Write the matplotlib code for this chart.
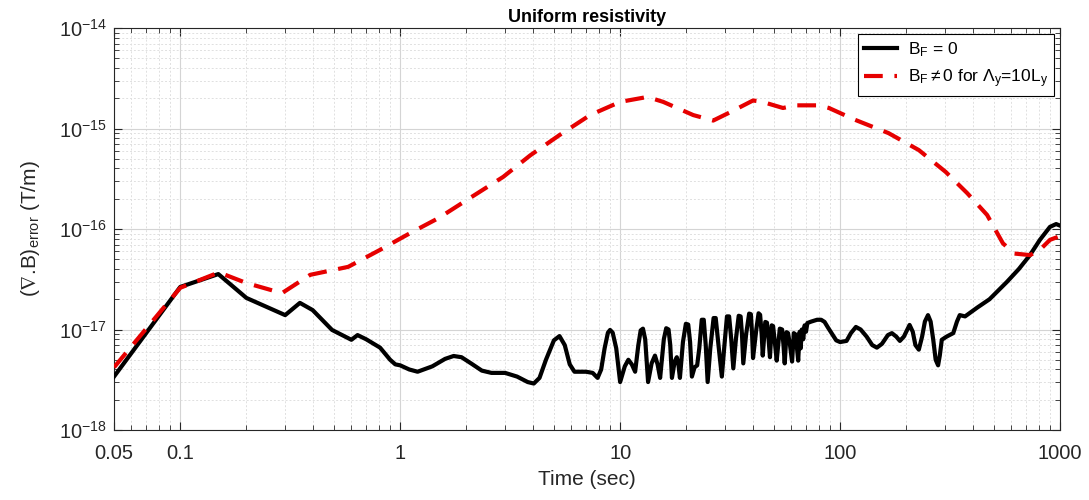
import numpy as np
import matplotlib.pyplot as plt
from matplotlib.ticker import FixedLocator, LogLocator, NullFormatter

plt.rcParams['font.family'] = ['Liberation Sans', 'DejaVu Sans']
plt.rcParams['mathtext.fontset'] = 'custom'
plt.rcParams['mathtext.rm'] = 'Liberation Sans'
plt.rcParams['mathtext.it'] = 'Liberation Sans'
plt.rcParams['mathtext.fallback'] = 'stixsans'

# B_F = 0 (black solid)
t_black = [0.05, 0.1, 0.149, 0.2, 0.3, 0.35, 0.4, 0.49, 0.6, 0.64, 0.7, 0.81, 0.9, 0.95,
           1.0, 1.1, 1.2, 1.4, 1.6, 1.75, 1.9, 2.1, 2.35, 2.6, 3.0, 3.4, 3.8, 4.05, 4.3,
           4.6, 5.0, 5.3, 5.6, 5.9, 6.2, 7.0, 7.5, 7.9,
           8.2, 8.5, 8.8, 9.0, 9.25, 9.6, 10.0, 10.5, 10.9, 11.3, 11.7,
           12.1, 12.4, 12.7, 13.0, 13.4, 13.9, 14.4, 14.8, 15.2,
           15.8, 16.2, 16.6, 16.9, 17.2, 17.7, 18.1, 18.4, 18.7,
           19.3, 19.9, 20.4, 20.8, 21.2, 21.8, 22.4, 22.9, 23.5, 24.0, 24.5, 25.0,
           25.7, 26.6, 27.2, 28.0, 29.0, 29.8, 30.6, 31.3, 32.0, 32.7,
           33.6, 34.6, 35.3, 35.8, 36.3, 37.4, 38.6, 39.3, 39.8, 40.2,
           41.6, 42.6, 43.3, 44.0, 44.5, 45.7, 46.5, 47.3, 48.0, 48.9, 49.6, 50.5, 51.5,
           53.2, 54.5, 55.3, 56.0, 57.1, 58.0, 59.2, 60.5, 61.6, 62.5, 63.5, 64.5,
           65.5, 66.2, 67.0, 68.0, 69.0, 70.0, 71.0, 74.0, 78.6, 82.0, 85.0, 88.0,
           92, 96, 100, 107, 112, 118, 124, 132, 140, 147, 155, 165, 172, 180, 187, 195,
           207, 214, 220, 228, 236, 243, 251, 258, 265, 272, 279, 284, 290, 305, 327,
           340, 350, 370, 420, 478, 573, 650, 730, 810, 900, 960, 1000]
err_black = [3.4e-18, 2.65e-17, 3.56e-17, 2.06e-17, 1.39e-17, 1.84e-17, 1.56e-17, 9.9e-18,
             7.9e-18, 8.8e-18, 8.0e-18, 6.6e-18, 5.0e-18, 4.5e-18,
             4.4e-18, 4.0e-18, 3.8e-18, 4.3e-18, 5.1e-18, 5.45e-18, 5.3e-18, 4.6e-18, 3.9e-18,
             3.7e-18, 3.7e-18, 3.4e-18, 3.0e-18, 2.9e-18, 3.3e-18,
             5.0e-18, 7.8e-18, 8.6e-18, 7.0e-18, 4.5e-18, 3.8e-18, 3.8e-18, 3.7e-18, 3.3e-18,
             4.0e-18, 6.5e-18, 9.3e-18, 9.9e-18, 9.3e-18, 6.5e-18, 3.0e-18, 4.3e-18, 5.0e-18,
             4.5e-18, 3.8e-18,
             7.0e-18, 9.8e-18, 1.02e-17, 8.0e-18, 3.0e-18, 4.6e-18, 5.5e-18, 4.5e-18, 3.3e-18,
             8.0e-18, 1.03e-17, 1.0e-17, 7.0e-18, 3.3e-18, 4.8e-18, 5.3e-18, 4.5e-18, 3.3e-18,
             7.5e-18, 1.14e-17, 1.12e-17, 7.5e-18, 3.4e-18, 4.2e-18, 4.4e-18, 6.5e-18,
             1.25e-17, 1.25e-17, 7.0e-18, 3.0e-18,
             6.5e-18, 1.3e-17, 1.3e-17, 7.0e-18, 3.4e-18, 7.0e-18, 1.35e-17, 1.35e-17,
             8.0e-18, 4.1e-18,
             8.0e-18, 1.37e-17, 1.35e-17, 9.0e-18, 4.6e-18, 9.0e-18, 1.44e-17, 1.42e-17,
             9.0e-18, 5.2e-18,
             1.0e-17, 1.45e-17, 1.4e-17, 9.0e-18, 5.5e-18, 1.19e-17, 1.17e-17, 8.0e-18,
             5.3e-18, 1.1e-17, 1.08e-17, 7.5e-18, 4.9e-18,
             1.02e-17, 1.0e-17, 7.0e-18, 4.6e-18, 9.4e-18, 9.2e-18, 7.0e-18, 4.8e-18,
             9.2e-18, 9.0e-18, 7.0e-18, 4.9e-18,
             9.5e-18, 6.5e-18, 1.0e-17, 8.0e-18, 1.1e-17, 9.5e-18, 1.16e-17, 1.2e-17,
             1.25e-17, 1.25e-17, 1.19e-17, 1.05e-17,
             9.0e-18, 7.8e-18, 7.5e-18, 7.7e-18, 9.2e-18, 1.06e-17, 1.0e-17, 8.5e-18,
             7.0e-18, 6.6e-18, 7.2e-18, 8.8e-18, 9.2e-18, 8.5e-18, 7.7e-18, 8.5e-18,
             1.11e-17, 9.5e-18, 7.0e-18, 6.3e-18, 8.5e-18, 1.2e-17, 1.39e-17, 1.2e-17,
             8.0e-18, 5.0e-18, 4.4e-18, 5.5e-18, 7.9e-18, 8.5e-18, 9.2e-18,
             1.2e-17, 1.39e-17, 1.35e-17, 1.65e-17, 2.0e-17, 2.97e-17, 4.0e-17, 5.5e-17,
             7.8e-17, 1.05e-16, 1.12e-16, 1.08e-16]

# B_F != 0 (red dashed)
t_red = [0.05, 0.1, 0.15, 0.2, 0.29, 0.39, 0.58, 0.81, 1.11, 1.5, 2.08, 2.94, 3.9, 5.3,
         7.3, 10, 13.3, 15.7, 21.5, 26.5, 31.6, 40.2, 44, 55, 63, 80, 89, 117, 166, 228,
         302, 378, 466, 550, 620, 730, 810, 900, 1000]
err_red = [4.2e-18, 2.6e-17, 3.7e-17, 2.9e-17, 2.3e-17, 3.5e-17, 4.2e-17, 6.2e-17, 9.1e-17,
           1.29e-16, 2.04e-16, 3.3e-16, 5.4e-16, 8.6e-16,
           1.36e-15, 1.84e-15, 2.06e-15, 1.84e-15, 1.36e-15, 1.2e-15, 1.45e-15, 1.9e-15,
           1.85e-15, 1.6e-15, 1.7e-15, 1.7e-15, 1.6e-15, 1.22e-15, 9e-16, 6.1e-16,
           3.7e-16, 2.28e-16, 1.38e-16, 7.2e-17, 5.7e-17, 5.5e-17, 6.2e-17, 7.8e-17, 8.5e-17]

xticks = [0.05, 0.1, 1, 10, 100, 1000]
xticklabels = ['0.05', '0.1', '1', '10', '100', '1000']
yticks = [1e-18, 1e-17, 1e-16, 1e-15, 1e-14]

fig = plt.figure(figsize=(10.89, 5.0), dpi=100)
ax = fig.add_axes([0.1047, 0.14, 0.8687, 0.804])

ax.plot(t_black, err_black, color='black', lw=3.0, solid_joinstyle='round',
        label=r'B$_\mathregular{F}$ = 0', zorder=3)
ax.plot(t_red, err_red, color='#e60000', lw=3.0, dashes=(4.5, 2.8),
        label=r'B$_\mathregular{F}$$\neq$0 for $\Lambda_\mathregular{y}$=10L$_\mathregular{y}$', zorder=4)

ax.set_xscale('log')
ax.set_yscale('log')
ax.set_xlim(0.05, 1000)
ax.set_ylim(1e-18, 1e-14)

ax.xaxis.set_major_locator(FixedLocator(xticks))
ax.set_xticklabels(xticklabels)
ax.xaxis.set_minor_locator(LogLocator(base=10, subs=np.arange(2, 10), numticks=20))
ax.xaxis.set_minor_formatter(NullFormatter())
ax.yaxis.set_major_locator(FixedLocator(yticks))
ax.yaxis.set_minor_locator(LogLocator(base=10, subs=np.arange(2, 10), numticks=20))
ax.yaxis.set_minor_formatter(NullFormatter())

ax.grid(True, which='major', color='#d4d4d4', lw=0.8, ls='-')
ax.grid(True, which='minor', color='#e0e0e0', lw=0.7, ls=(0, (2, 2)))
ax.set_axisbelow(True)

ax.tick_params(which='both', direction='in', top=True, right=True, colors='#262626',
               labelsize=14.5)
ax.tick_params(which='major', length=6, width=0.8)
ax.tick_params(which='minor', length=3.5, width=0.6)
ax.tick_params(axis='x', which='major', pad=10)
ax.tick_params(axis='y', which='major', pad=5)
for s in ax.spines.values():
    s.set_color('#262626')
    s.set_linewidth(0.8)

ax.set_xlabel('Time (sec)', fontsize=15, color='#262626', labelpad=5)
ax.set_ylabel(r'($\nabla$.B)$_\mathregular{error}$ (T/m)', fontsize=15, color='#262626', labelpad=12)
ax.set_title('Uniform resistivity', fontsize=13, fontweight='bold', pad=4)

leg = ax.legend(loc='upper right', fontsize=12.5, frameon=True, fancybox=False,
                edgecolor='black', framealpha=1, handlelength=1.9, borderaxespad=0.35,
                labelspacing=0.5, borderpad=0.35, handletextpad=0.6)
leg.get_frame().set_linewidth(0.8)

fig.savefig('out.png', dpi=100)
